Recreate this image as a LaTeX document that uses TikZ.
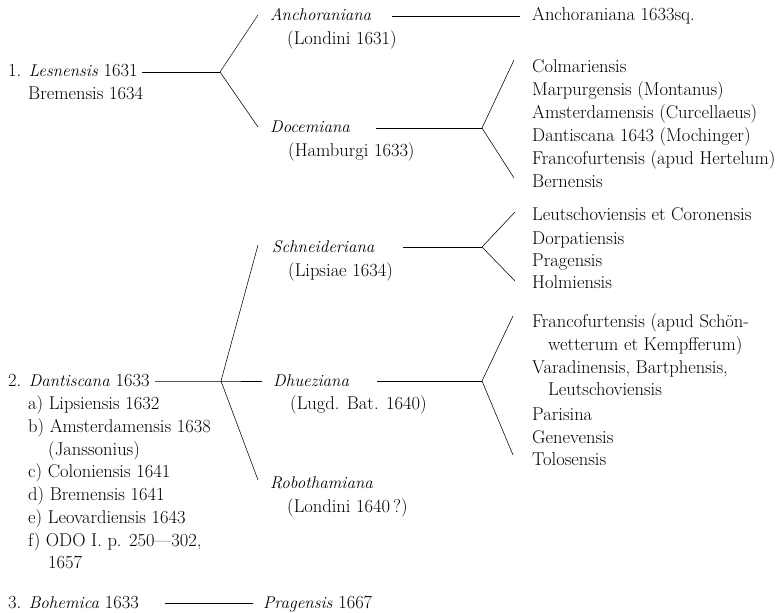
\documentclass[tikz,border=0pt]{standalone}
\usetikzlibrary{positioning}
\newcommand{\ital}[1]{{\fontsize{17}{22}\selectfont\textit{#1}}}
\begin{document}
\begin{tikzpicture}[x=1pt,y=-1pt,
    txt/.style={anchor=base west, inner sep=0pt, font=\fontsize{18.5}{22}\selectfont},
    link/.style={line width=0.55pt}]
  \useasboundingbox (0,0) rectangle (783,612);

  % first family
  \node[txt] (lesn)  at (8,77)   {1. \ital{Lesnensis} 1631};
  \node[txt] (lesnb) at (28,100) {Bremensis 1634};
  \node[txt] (anch)  at (270,21) {\ital{Anchoraniana}};
  \node[txt] (anchl) at (287,45) {(Londini 1631)};
  \node[txt] (anchsq) at (532,21) {Anchoraniana 1633sq.};
  \node[txt] (doce)  at (270,133) {\ital{Docemiana}};
  \node[txt] (docel) at (288,157) {(Hamburgi 1633)};
  \node[txt] (colm)  at (532,73)  {Colmariensis};
  \node[txt] (marp)  at (532,96)  {Marpurgensis (Montanus)};
  \node[txt] (amst)  at (532,119) {Amsterdamensis (Curcellaeus)};
  \node[txt] (dant43) at (532,142) {Dantiscana 1643 (Mochinger)};
  \node[txt] (franc) at (532,165) {Francofurtensis (apud Hertelum)};
  \node[txt] (bern)  at (532,188) {Bernensis};

  \coordinate (lesn-o)   at (142,72);
  \coordinate (f1)       at (220,72);
  \coordinate (anch-o)   at (392,16);
  \coordinate (anchsq-i) at (520,16);
  \coordinate (doce-o)   at (376,128);
  \coordinate (f2)       at (482,128);
  \draw[link] (lesn-o) -- (f1);
  \draw[link] (f1) -- ([xshift=-12pt,yshift=6pt]anch.base west);
  \draw[link] (f1) -- ([xshift=-12pt,yshift=6pt]doce.base west);
  \draw[link] (anch-o) -- (anchsq-i);
  \draw[link] (doce-o) -- (f2);
  \draw[link] (f2) -- ([xshift=-18pt,yshift=13pt]colm.base west);
  \draw[link] (f2) -- ([xshift=-18pt,yshift=10pt]bern.base west);

  % second family
  \node[txt] (dant)  at (8,386)  {2. \ital{Dantiscana} 1633};
  \node[txt] (danta) at (28,409) {a) Lipsiensis 1632};
  \node[txt] (dantb) at (28,432) {b) Amsterdamensis 1638};
  \node[txt] (jans)  at (48,455) {(Janssonius)};
  \node[txt] (dantc) at (28,477) {c) Coloniensis 1641};
  \node[txt] (dantd) at (28,500) {d) Bremensis 1641};
  \node[txt] (dante) at (28,523) {e) Leovardiensis 1643};
  \node[txt] (dantf) at (28,546) {f) ODO I. p. 250---302,};
  \node[txt] (odob)  at (48,568) {1657};

  \node[txt] (schn)  at (272,252) {\ital{Schneideriana}};
  \node[txt] (schnl) at (288,276) {(Lipsiae 1634)};
  \node[txt] (leut)  at (532,221) {Leutschoviensis et Coronensis};
  \node[txt] (dorp)  at (532,244) {Dorpatiensis};
  \node[txt] (prag)  at (532,266) {Pragensis};
  \node[txt] (holm)  at (532,288) {Holmiensis};

  \node[txt] (dhue)  at (273,386) {\ital{Dhueziana}};
  \node[txt] (dhuel) at (290,409) {(Lugd. Bat. 1640)};
  \node[txt] (fsch)  at (532,327) {Francofurtensis (apud Schön-};
  \node[txt] (fschb) at (548,350) {wetterum et Kempfferum)};
  \node[txt] (vara)  at (532,373) {Varadinensis, Bartphensis,};
  \node[txt] (varab) at (548,395) {Leutschoviensis};
  \node[txt] (pari)  at (532,420) {Parisina};
  \node[txt] (gene)  at (532,443) {Genevensis};
  \node[txt] (tolo)  at (532,465) {Tolosensis};

  \node[txt] (robo)  at (270,488) {\ital{Robothamiana}};
  \node[txt] (robol) at (287,512) {(Londini 1640\,?)};

  \coordinate (dant-o) at (155,381);
  \coordinate (f3)     at (221,381);
  \coordinate (dhue-i) at (262,381);
  \coordinate (schn-o) at (403,247);
  \coordinate (f4)     at (482,247);
  \coordinate (dhue-o) at (377,381);
  \coordinate (f5)     at (482,381);
  \draw[link] (dant-o) -- (f3) -- (dhue-i);
  \draw[link] (f3) -- ([xshift=-14pt,yshift=7pt]schn.base west);
  \draw[link] (f3) -- ([xshift=-12pt,yshift=8pt]robo.base west);
  \draw[link] (schn-o) -- (f4);
  \draw[link] (f4) -- ([xshift=-17pt,yshift=9pt]leut.base west);
  \draw[link] (f4) -- ([xshift=-17pt,yshift=7pt]holm.base west);
  \draw[link] (dhue-o) -- (f5);
  \draw[link] (f5) -- ([xshift=-19pt,yshift=11pt]fsch.base west);
  \draw[link] (f5) -- ([xshift=-19pt,yshift=10pt]tolo.base west);

  % third family
  \node[txt] (bohe)  at (8,608)   {3. \ital{Bohemica} 1633};
  \node[txt] (prag67) at (263,608) {\ital{Pragensis} 1667};
  \coordinate (bohe-o)   at (165,603);
  \coordinate (prag67-i) at (253,603);
  \draw[link] (bohe-o) -- (prag67-i);
\end{tikzpicture}
\end{document}
